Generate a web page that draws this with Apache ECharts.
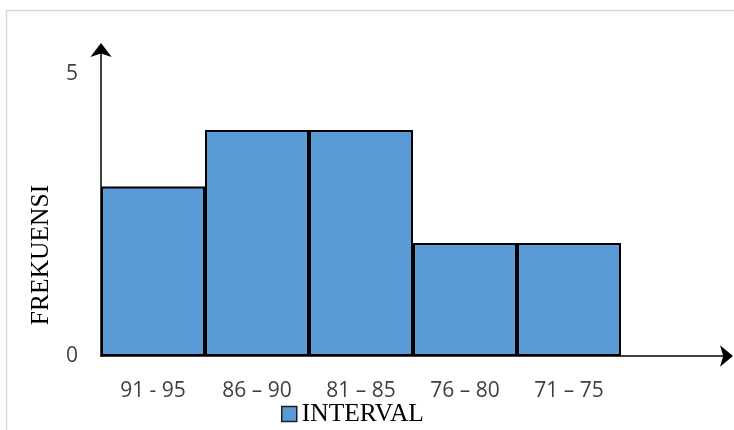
<!DOCTYPE html>
<html>
<head>
<meta charset="utf-8">
<style>
  html, body { margin: 0; padding: 0; background: #ffffff; }
  #chart { width: 734px; height: 430px; }
</style>
<script src="https://cdn.jsdelivr.net/npm/echarts@6/dist/echarts.min.js"></script>
</head>
<body>
<div id="chart"></div>
<script>
// Score intervals (the trailing empty slot leaves room for the axis arrow)
const intervals = ['91 - 95', '86 \u2013 90', '81 \u2013 85', '76 \u2013 80', '71 \u2013 75', ''];
// Frequency of each interval
const frekuensi = [3, 4, 4, 2, 2, null];
const seriesName = 'INTERVAL';
const yTitle = 'FREKUENSI';

const chart = echarts.init(document.getElementById('chart'), null, { renderer: 'canvas' });

chart.setOption({
  animation: false,
  backgroundColor: '#ffffff',
  graphic: [{
    type: 'rect',
    silent: true,
    shape: { x: 6.5, y: 10.5, width: 900, height: 600 },
    style: { fill: 'none', stroke: '#d9d9d9', lineWidth: 1.5 }
  }],
  grid: { left: 101, right: 9, top: 51, bottom: 74, containLabel: false },
  legend: {
    left: 276,
    top: 396,
    icon: 'rect',
    itemWidth: 15,
    itemHeight: 15,
    itemGap: 6,
    data: [seriesName],
    itemStyle: { borderColor: '#1f1f1f', borderWidth: 1.5 },
    textStyle: { fontFamily: '"Liberation Serif", "Times New Roman", serif', fontSize: 25.5, color: '#000000', padding: [2, 0, 0, 0] }
  },
  xAxis: {
    type: 'category',
    data: intervals,
    boundaryGap: true,
    axisLine: {
      show: true,
      symbol: ['none', 'arrow'],
      symbolSize: [16, 13],
      symbolOffset: [0, 8],
      lineStyle: { color: '#000000', width: 1.5 }
    },
    axisTick: { show: false },
    axisLabel: {
      interval: 0,
      margin: 25,
      fontFamily: '"Open Sans", "Noto Sans", sans-serif',
      fontSize: 21,
      color: '#404040'
    },
    splitLine: { show: false }
  },
  yAxis: {
    type: 'value',
    min: 0,
    max: 5.4,
    interval: 5,
    name: yTitle,
    nameLocation: 'middle',
    nameRotate: 90,
    nameGap: 47,
    nameTextStyle: {
      fontFamily: '"Liberation Serif", "Times New Roman", serif',
      fontSize: 25.5,
      color: '#000000',
      padding: [0, 103, 0, 0]
    },
    axisLine: {
      show: true,
      symbol: ['none', 'arrow'],
      symbolSize: [16, 14],
      symbolOffset: [0, 8],
      lineStyle: { color: '#000000', width: 1.5 }
    },
    axisTick: { show: false },
    axisLabel: {
      margin: 23,
      showMaxLabel: false,
      fontFamily: '"Open Sans", "Noto Sans", sans-serif',
      fontSize: 21,
      color: '#404040'
    },
    splitLine: { show: false }
  },
  series: [{
    name: seriesName,
    type: 'bar',
    data: frekuensi,
    barWidth: '100%',
    itemStyle: {
      color: '#5b9bd5',
      borderColor: '#000000',
      borderWidth: 2
    }
  }]
});
</script>
</body>
</html>
